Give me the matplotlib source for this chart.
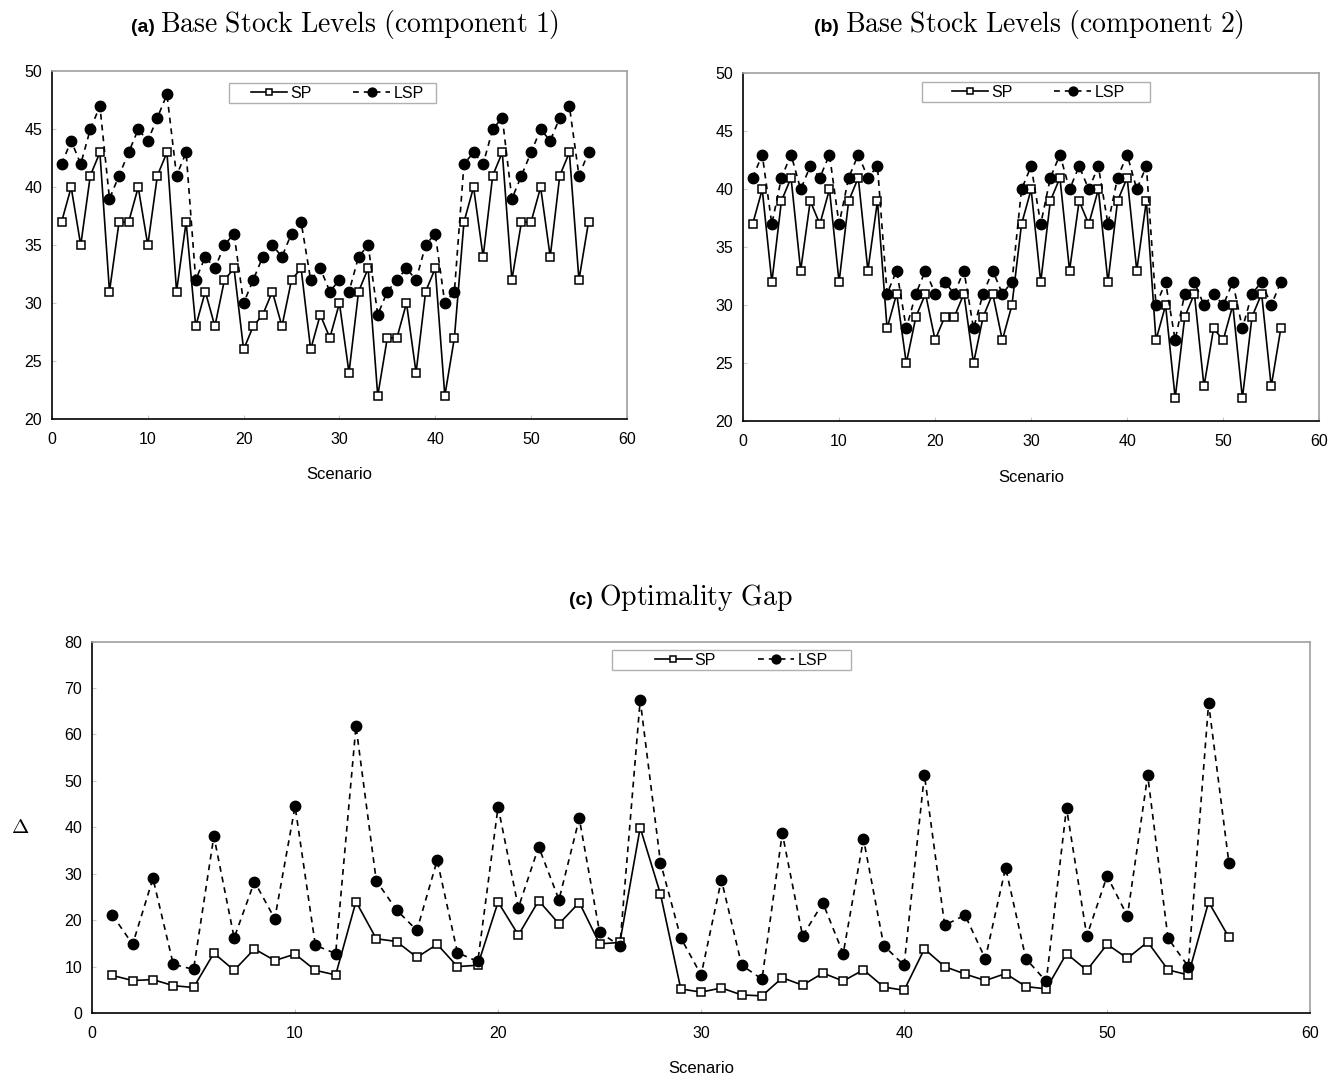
import numpy as np
import matplotlib
matplotlib.use("Agg")
import matplotlib.pyplot as plt
from matplotlib.patches import Rectangle

plt.rcParams['font.family'] = ['Liberation Sans', 'DejaVu Sans']
plt.rcParams['mathtext.fontset'] = 'cm'

scenarios = np.arange(1, 57)

# (a) base stock levels, component 1
sp_a = [37, 40, 35, 41, 43, 31, 37, 37, 40, 35, 41, 43, 31, 37, 28, 31, 28, 32, 33, 26,
        28, 29, 31, 28, 32, 33, 26, 29, 27, 30, 24, 31, 33, 22, 27, 27, 30, 24, 31, 33,
        22, 27, 37, 40, 34, 41, 43, 32, 37, 37, 40, 34, 41, 43, 32, 37]
lsp_a = [42, 44, 42, 45, 47, 39, 41, 43, 45, 44, 46, 48, 41, 43, 32, 34, 33, 35, 36, 30,
         32, 34, 35, 34, 36, 37, 32, 33, 31, 32, 31, 34, 35, 29, 31, 32, 33, 32, 35, 36,
         30, 31, 42, 43, 42, 45, 46, 39, 41, 43, 45, 44, 46, 47, 41, 43]

# (b) base stock levels, component 2
sp_b = [37, 40, 32, 39, 41, 33, 39, 37, 40, 32, 39, 41, 33, 39, 28, 31, 25, 29, 31, 27,
        29, 29, 31, 25, 29, 31, 27, 30, 37, 40, 32, 39, 41, 33, 39, 37, 40, 32, 39, 41,
        33, 39, 27, 30, 22, 29, 31, 23, 28, 27, 30, 22, 29, 31, 23, 28]
lsp_b = [41, 43, 37, 41, 43, 40, 42, 41, 43, 37, 41, 43, 41, 42, 31, 33, 28, 31, 33, 31,
         32, 31, 33, 28, 31, 33, 31, 32, 40, 42, 37, 41, 43, 40, 42, 40, 42, 37, 41, 43,
         40, 42, 30, 32, 27, 31, 32, 30, 31, 30, 32, 28, 31, 32, 30, 32]

# (c) optimality gap
sp_c = [8.1, 7.0, 7.2, 5.9, 5.5, 12.9, 9.2, 13.8, 11.3, 12.7, 9.2, 8.2, 24.0, 16.0, 15.4,
        12.0, 14.8, 10.0, 10.3, 23.9, 16.8, 24.2, 19.2, 23.8, 14.9, 15.2, 39.9, 25.6, 5.2,
        4.5, 5.4, 3.9, 3.7, 7.6, 6.0, 8.6, 6.9, 9.3, 5.6, 4.9, 13.8, 10.0, 8.4, 7.0, 8.5,
        5.7, 5.2, 12.8, 9.2, 14.8, 11.8, 15.3, 9.3, 8.2, 23.9, 16.3]
lsp_c = [21.1, 14.8, 29.0, 10.5, 9.4, 38.1, 16.2, 28.3, 20.3, 44.5, 14.6, 12.8, 61.8, 28.5,
         22.2, 17.8, 32.9, 13.0, 11.1, 44.4, 22.7, 35.8, 24.4, 41.9, 17.4, 14.5, 67.4, 32.4,
         16.2, 8.2, 28.7, 10.3, 7.3, 38.7, 16.6, 23.7, 12.8, 37.5, 14.5, 10.3, 51.3, 18.9,
         21.1, 11.7, 31.3, 11.7, 6.8, 44.2, 16.6, 29.5, 20.9, 51.2, 16.1, 10.0, 66.7, 32.3]


def draw_panel(ax, sp, lsp, ylim, yticks, box, legend_x):
    ax.plot(scenarios, sp, color='black', lw=1.2, marker='s', ms=5.5,
            mfc='white', mec='black', mew=1.1, label='SP')
    ax.plot(scenarios, lsp, color='black', lw=1.2, ls=(0, (3.5, 3)), marker='o', ms=7.5,
            mfc='black', mec='black', label='LSP')
    ax.set_xlim(0, 60)
    ax.set_ylim(*ylim)
    ax.set_xticks(range(0, 61, 10))
    ax.set_yticks(yticks)
    ax.tick_params(direction='in', length=3, color='#c8c8c8', labelsize=11.5)
    ax.tick_params(axis='x', pad=9)
    ax.tick_params(axis='y', pad=7)
    for side in ('left', 'bottom'):
        ax.spines[side].set_color('black')
        ax.spines[side].set_linewidth(1.2)
    for side in ('top', 'right'):
        ax.spines[side].set_color('#a0a0a0')
        ax.spines[side].set_linewidth(1.2)
    ax.set_xlabel('Scenario', fontsize=12, labelpad=15)

    # excel-style legend: a plain grey box with the entries inside it
    x0, x1, y0, y1 = box
    ax.add_patch(Rectangle((x0, y0), x1 - x0, y1 - y0, transform=ax.transAxes,
                           facecolor='white', edgecolor='#b0b0b0', lw=1.0,
                           zorder=5, clip_on=False))
    leg = ax.legend(loc='center', bbox_to_anchor=(legend_x, (y0 + y1) / 2), ncol=2,
                    fontsize=11.5, frameon=False, borderpad=0, handlelength=2.3,
                    columnspacing=2.6, handletextpad=0.2, borderaxespad=0,
                    markerscale=0.85)
    leg.set_zorder(6)


fig = plt.figure(figsize=(13.4, 10.8), dpi=100)
ax_a = fig.add_axes([0.0388, 0.612, 0.429, 0.322])
ax_b = fig.add_axes([0.5545, 0.610, 0.430, 0.322])
ax_c = fig.add_axes([0.0687, 0.062, 0.909, 0.344])

draw_panel(ax_a, sp_a, lsp_a, (20, 50), range(20, 51, 5),
           (0.308, 0.668, 0.908, 0.966), 0.496)
draw_panel(ax_b, sp_b, lsp_b, (20, 50), range(20, 51, 5),
           (0.311, 0.707, 0.917, 0.974), 0.512)
draw_panel(ax_c, sp_c, lsp_c, (0, 80), range(0, 81, 10),
           (0.427, 0.623, 0.922, 0.978), 0.533)
ax_c.set_ylabel(r'$\Delta$', fontsize=15, rotation=0, labelpad=32, va='center')

renderer = fig.canvas.get_renderer()


def panel_title(xc, y, tag, text):
    # bold sans tag followed by a serif (computer modern) title, centred on xc
    t1 = fig.text(0, y, tag, fontsize=14, fontweight='bold', ha='left', va='baseline')
    t2 = fig.text(0, y, r'$\mathrm{' + text.replace(' ', r'\ ') + '}$', fontsize=20,
                  ha='left', va='baseline')
    w1 = t1.get_window_extent(renderer).width / fig.bbox.width
    w2 = t2.get_window_extent(renderer).width / fig.bbox.width
    gap = 6 / fig.bbox.width
    x0 = xc - (w1 + gap + w2) / 2
    t1.set_x(x0)
    t2.set_x(x0 + w1 + gap)


panel_title(345 / 1340, 0.970, '(a)', 'Base Stock Levels (component 1)')
panel_title(1029 / 1340, 0.970, '(b)', 'Base Stock Levels (component 2)')
panel_title(681 / 1340, 0.440, '(c)', 'Optimality Gap')

fig.savefig('out.png', dpi=100)
